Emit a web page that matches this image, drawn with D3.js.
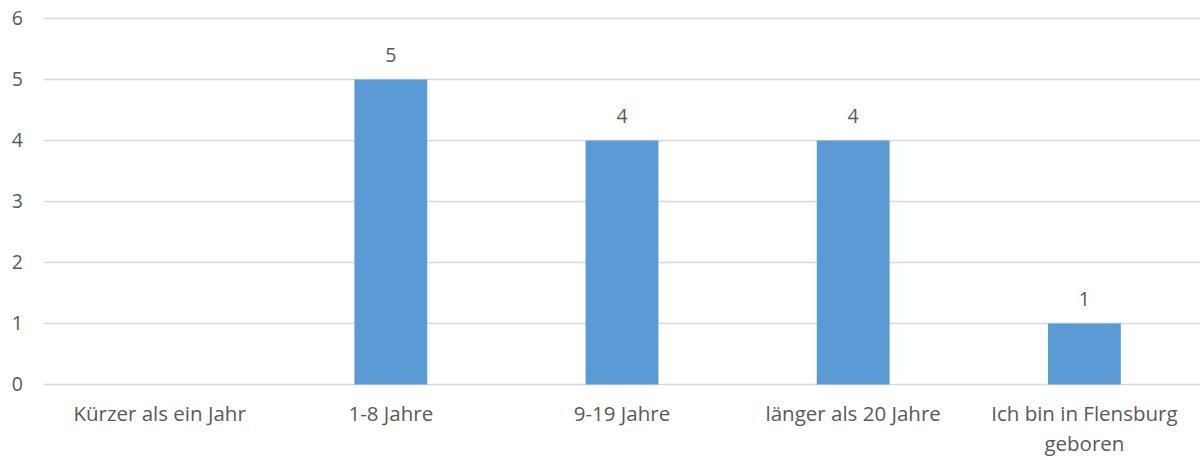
<!DOCTYPE html>
<html>
<head>
<meta charset="utf-8">
<script src="https://cdn.jsdelivr.net/npm/d3@7"></script>
<style>
  body { margin: 0; background: #fff; }
  svg text { font-family: "Open Sans", "Liberation Sans", sans-serif; fill: #595959; }
</style>
</head>
<body>
<div id="chart"></div>
<script>
var CATEGORIES = ["Kürzer als ein Jahr", "1-8 Jahre", "9-19 Jahre", "länger als 20 Jahre", "Ich bin in Flensburg geboren"],
    VALUES = [0, 5, 4, 4, 1],
    Y_TICKS = [0, 1, 2, 3, 4, 5, 6];

var width = 1201, height = 460;
var margin = {top: 18.5, right: 1, bottom: 75.5, left: 44};
var FONT = "19.5px", XFONT = "20.5px";

var svg = d3.select("#chart").append("svg")
    .attr("width", width)
    .attr("height", height);

var x = d3.scaleBand()
    .domain(CATEGORIES)
    .range([margin.left, width - margin.right])
    .paddingInner(0.685)
    .paddingOuter(0.3425);

var y = d3.scaleLinear()
    .domain([0, 6])
    .range([height - margin.bottom, margin.top]);

var rows = CATEGORIES.map(function(c, i) { return {cat: c, value: VALUES[i]}; });

// gridlines
svg.append("g").selectAll("line")
    .data(Y_TICKS)
    .enter().append("line")
    .attr("x1", margin.left)
    .attr("x2", width - margin.right)
    .attr("y1", function(d) { return y(d); })
    .attr("y2", function(d) { return y(d); })
    .attr("stroke", "#d9d9d9")
    .attr("stroke-width", 1.5);

// y labels
svg.append("g").selectAll("text")
    .data(Y_TICKS)
    .enter().append("text")
    .attr("x", 23)
    .attr("y", function(d) { return y(d); })
    .attr("dy", "0.35em")
    .attr("text-anchor", "end")
    .style("font-size", FONT)
    .text(function(d) { return d; });

// bars
svg.append("g").selectAll("rect")
    .data(rows)
    .enter().append("rect")
    .attr("x", function(d) { return x(d.cat); })
    .attr("width", x.bandwidth())
    .attr("y", function(d) { return y(d.value); })
    .attr("height", function(d) { return y(0) - y(d.value); })
    .attr("fill", "#5b9bd5");

// value labels
svg.append("g").selectAll("text")
    .data(rows.filter(function(d) { return d.value > 0; }))
    .enter().append("text")
    .attr("x", function(d) { return x(d.cat) + x.bandwidth() / 2; })
    .attr("y", function(d) { return y(d.value) - 18; })
    .attr("text-anchor", "middle")
    .style("font-size", FONT)
    .text(function(d) { return d.value; });

// x labels (wrapped)
svg.append("g").selectAll("text")
    .data(CATEGORIES)
    .enter().append("text")
    .attr("text-anchor", "middle")
    .style("font-size", XFONT)
    .each(function(d) {
      var t = d3.select(this),
          cx = x(d) + x.bandwidth() / 2,
          lines = [d];
      if (d == "Ich bin in Flensburg geboren") lines = ["Ich bin in Flensburg", "geboren"];
      lines.forEach(function(l, k) {
        t.append("tspan")
          .attr("x", cx)
          .attr("y", y(0) + 36 + k * 30)
          .text(l);
      });
    });
</script>
</body>
</html>
